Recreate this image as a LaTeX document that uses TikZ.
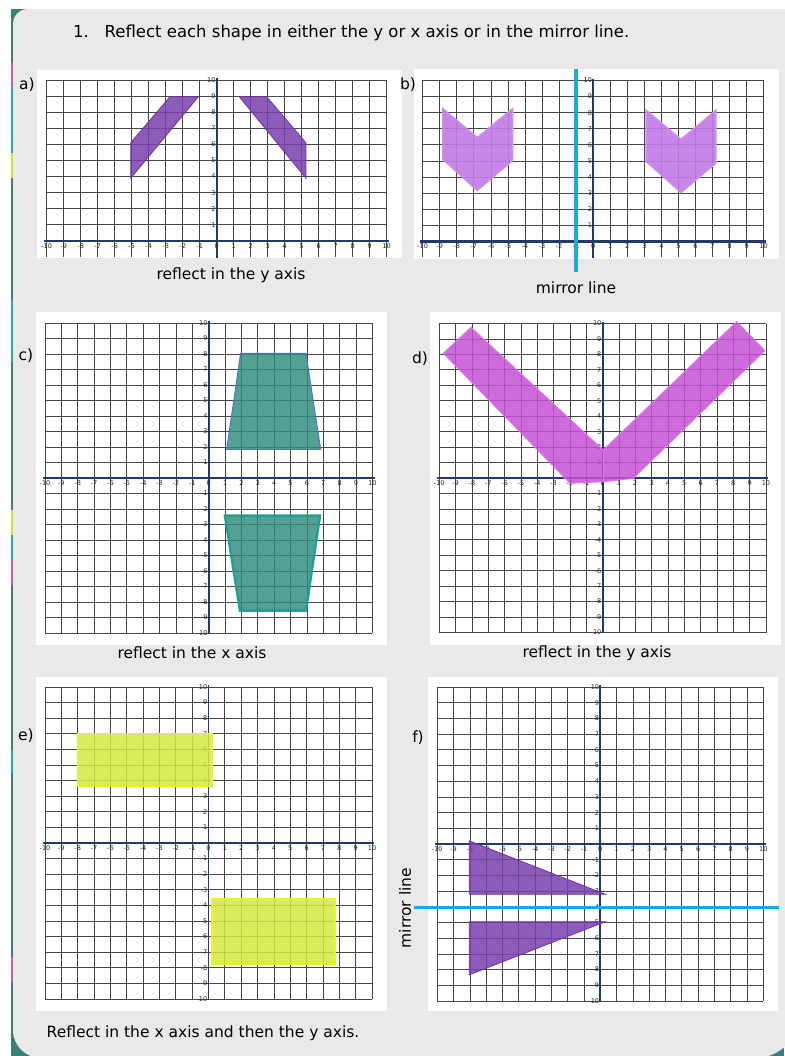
\documentclass[tikz,border=0pt]{standalone}
\usepackage{fontspec}
\setmainfont{DejaVu Sans}
\definecolor{frameteal}{HTML}{3F7F72}
\definecolor{panelgray}{HTML}{E9E9E9}
\definecolor{axisnavy}{HTML}{203A6B}
\definecolor{mirrorblue}{HTML}{1FA8E0}
\definecolor{purpleA}{HTML}{7A40AE}
\definecolor{purpleAline}{HTML}{7030A0}
\definecolor{lilac}{HTML}{C27BE6}
\definecolor{lilacline}{HTML}{CF8FF0}
\definecolor{tealfill}{HTML}{2F8C7E}
\definecolor{tealline}{HTML}{1FA093}
\definecolor{blueline}{HTML}{4A78C8}
\definecolor{magentafill}{HTML}{C650D6}
\definecolor{magentaline}{HTML}{D77AE6}
\definecolor{limefill}{HTML}{D3EA40}
\definecolor{limeline}{HTML}{E6F530}
\definecolor{stripemag}{HTML}{C85AB4}
\definecolor{stripecyan}{HTML}{2AA9A0}
\definecolor{stripeyel}{HTML}{D8E030}
\tikzset{
  gridline/.style={draw=black!72, line width=0.8pt},
  xaxis/.style={draw=axisnavy, line width=2.6pt},
  yaxis/.style={draw=axisnavy, line width=1.8pt},
  tick/.style={font=\fontsize{6.5}{7}\selectfont, text=black!85, inner sep=0.4pt},
  lbl/.style={font=\fontsize{15.5}{17}\selectfont, text=black, inner sep=0pt},
  mirror/.style={draw=mirrorblue, line width=3.4pt},
  shapeA/.style={fill=purpleA, fill opacity=0.85, draw=purpleAline, line width=0.8pt},
  shapeB/.style={fill=lilac, fill opacity=0.9, draw=lilacline, line width=1.2pt},
  shapeC/.style={fill=tealfill, fill opacity=0.82, draw=blueline, line width=1pt},
  shapeCC/.style={fill=tealfill, fill opacity=0.82, draw=tealline, line width=2.4pt},
  shapeD/.style={fill=magentafill, fill opacity=0.85, draw=magentaline, line width=1pt},
  shapeE/.style={fill=limefill, fill opacity=0.85, draw=limeline, line width=1.6pt},
}
\newcommand\halfgrid[1]{%
  \foreach \i in {-10,...,10}{\draw[gridline] (\i,#1) -- (\i,10);}
  \foreach \j in {1,...,10}{\draw[gridline] (-10,\j) -- (10,\j);}
}
\newcommand\fullgrid{%
  \foreach \i in {-10,...,10}{\draw[gridline] (\i,-10) -- (\i,10);}
  \foreach \j in {-10,...,10}{\draw[gridline] (-10,\j) -- (10,\j);}
}
\newcommand\axes[1]{%
  \draw[xaxis] (-10.15,0) -- (10.15,0);
  \draw[yaxis] (0,#1) -- (0,10.1);
}
\newcommand\xtl[1]{\foreach \i in {-10,...,10}{\node[tick,anchor=north] (#1x\i) at (\i,-0.12) {\i};}}
\newcommand\ytl[3]{\foreach \j in {#2,...,#3}{\ifnum\j=0\else\node[tick,anchor=east] (#1y\j) at (-0.04,\j) {\j};\fi}}
\begin{document}
\begin{tikzpicture}[x=1pt,y=-1pt]
\useasboundingbox (0,0) rectangle (784,1056);
\fill[white] (0,0) rectangle (784,1056);
% frame and panel
\fill[frameteal] (11,9) rectangle (784,1056);
\fill[panelgray] (13,1030) -- (13,24) arc[start angle=180,end angle=90,radius=15pt]
  -- (800,9) -- (800,1013) arc[start angle=0,end angle=-90,radius=45pt]
  -- (41,1058) arc[start angle=270,end angle=180,radius=28pt] -- cycle;
% coloured tabs on the left edge
\fill[stripemag] (11,63) rectangle (13.4,87);
\fill[stripecyan] (11,87) rectangle (13.4,153);
\fill[stripeyel] (11,153) rectangle (13.4,178);
\fill[stripecyan] (11,300) rectangle (13.4,362);
\fill[stripeyel] (11,510) rectangle (13.4,535);
\fill[stripecyan] (11,535) rectangle (13.4,560);
\fill[stripemag] (11,560) rectangle (13.4,585);
\fill[stripecyan] (11,750) rectangle (13.4,773);
\fill[stripemag] (11,957) rectangle (13.4,982);

% title
\node[anchor=west, font=\fontsize{16.5}{18}\selectfont, inner sep=0pt] (title) at (73,33)
  {1.\ \ \ Reflect each shape in either the y or x axis or in the mirror line.};

% ---------- a ----------
\fill[white] (37,70) rectangle (402,258);
\begin{scope}[shift={(216.7,241)}, x={(17pt,0pt)}, y={(0pt,16.1pt)}]
  \halfgrid{-0.98}
  \axes{-1.05}
  \xtl{a}\ytl{a}{1}{10}
  \filldraw[shapeA] (-5.06,3.9) -- (-5.06,6.1) -- (-2.75,8.96) -- (-1.08,8.96) -- cycle;
  \filldraw[shapeA] (5.25,3.9) -- (5.25,6.1) -- (2.94,8.96) -- (1.33,8.96) -- cycle;
\end{scope}
\node[lbl] (alab) at (27,85) {a)};
\node[lbl] (acap) at (231,275) {reflect in the y axis};

% ---------- b ----------
\fill[white] (414,69) rectangle (779,259);
\begin{scope}[shift={(593.2,241.5)}, x={(17.05pt,0pt)}, y={(0pt,16.1pt)}]
  \halfgrid{-0.98}
  \axes{-1.05}
  \xtl{b}\ytl{b}{1}{10}
  \filldraw[shapeB] (-8.83,8.27) -- (-8.83,5.1) -- (-6.8,3.16) -- (-4.72,5.02) -- (-4.72,8.27) -- (-6.8,6.47) -- cycle;
  \filldraw[shapeB] (3.1,8.17) -- (3.1,4.96) -- (5.15,3.03) -- (7.2,4.86) -- (7.2,8.17) -- (5.15,6.35) -- cycle;
  \coordinate (bm1) at (-1,10.71);
  \coordinate (bm2) at (-1,-1.89);
  \draw[mirror] (bm1) -- (bm2);
\end{scope}
\node[lbl] (blab) at (408,85) {b)};
\node[lbl] (bcap) at (576,288) {mirror line};

% ---------- c ----------
\fill[white] (36,312) rectangle (387,645);
\begin{scope}[shift={(208.7,478)}, x={(16.37pt,0pt)}, y={(0pt,15.5pt)}]
  \fullgrid
  \axes{-10.05}
  \xtl{c}\ytl{c}{-10}{10}
  \filldraw[shapeC] (1.1,1.85) -- (1.95,8.04) -- (5.94,8.04) -- (6.84,1.85) -- cycle;
  \filldraw[shapeCC] (0.99,-2.43) -- (6.8,-2.43) -- (5.94,-8.56) -- (1.91,-8.56) -- cycle;
\end{scope}
\node[lbl] (clab) at (26,356) {c)};
\node[lbl] (ccap) at (192,653) {reflect in the x axis};

% ---------- d ----------
\fill[white] (430,312) rectangle (781,645);
\begin{scope}[shift={(602.6,478)}, x={(16.33pt,0pt)}, y={(0pt,15.45pt)}]
  \fullgrid
  \axes{-10.05}
  \xtl{d}\ytl{d}{-10}{10}
  \filldraw[shapeD] (-9.75,8.07) -- (-8.06,9.75) -- (0.04,1.81) -- (8.21,10.12) -- (9.94,8.24)
     -- (1.88,-0.02) -- (0.04,-0.24) -- (-2.0,-0.34) -- cycle;
  \draw[draw=magentaline, line width=1pt] (0.04,1.81) -- (0.04,-0.24);
\end{scope}
\node[lbl] (dlab) at (420,359) {d)};
\node[lbl] (dcap) at (597,653) {reflect in the y axis};

% ---------- e ----------
\fill[white] (36,677) rectangle (387,1011);
\begin{scope}[shift={(208.5,843)}, x={(16.35pt,0pt)}, y={(0pt,15.6pt)}]
  \fullgrid
  \axes{-10.05}
  \xtl{e}\ytl{e}{-10}{10}
  \filldraw[shapeE] (-8.02,3.61) rectangle (0.23,7.03);
  \filldraw[shapeE] (0.23,-3.59) rectangle (7.74,-7.78);
\end{scope}
\node[lbl] (elab) at (26,736) {e)};
\node[lbl] (ecap) at (203,1033) {Reflect in the x axis and then the y axis.};

% ---------- f ----------
\fill[white] (428,677) rectangle (778,1011);
\begin{scope}[shift={(600.3,844)}, x={(16.3pt,0pt)}, y={(0pt,15.7pt)}]
  \fullgrid
  \axes{-10.05}
  \xtl{f}\ytl{f}{-10}{10}
  \filldraw[shapeA] (-8.04,0.2) -- (-8.04,-3.2) -- (0.3,-3.2) -- cycle;
  \filldraw[shapeA] (-8.04,-4.95) -- (0.3,-4.95) -- (-8.04,-8.33) -- cycle;
  \coordinate (fm1) at (-11.43,-4.06);
  \coordinate (fm2) at (10.96,-4.06);
  \draw[mirror] (fm1) -- (fm2);
\end{scope}
\node[lbl] (flab) at (418,738) {f)};
\node[lbl, rotate=90] (fcap) at (405,908) {mirror line};
\end{tikzpicture}
\end{document}
